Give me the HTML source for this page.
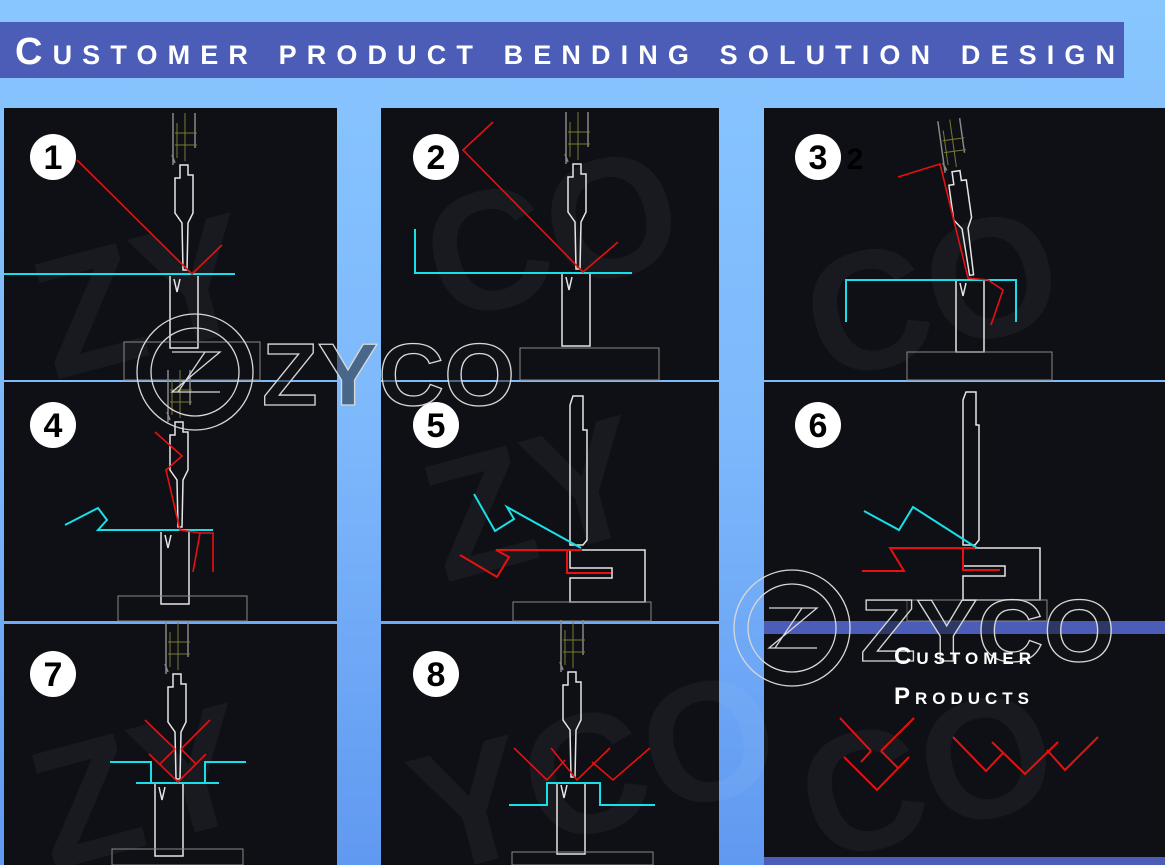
<!DOCTYPE html>
<html><head><meta charset="utf-8"><style>
html,body{margin:0;padding:0;width:1165px;height:865px;overflow:hidden;}
body{background:linear-gradient(#86c3ff,#7ab6fb 50%,#5f97f0);}
svg{display:block}
</style></head><body>
<svg width="1165" height="865" viewBox="0 0 1165 865" xmlns="http://www.w3.org/2000/svg">
<defs>
<linearGradient id="bg" x1="0" y1="0" x2="0" y2="1"><stop offset="0" stop-color="#88c6ff"/><stop offset="0.5" stop-color="#7db8fc"/><stop offset="1" stop-color="#6099f0"/></linearGradient>
<g id="punch" fill="none" stroke="#e6e6e6" stroke-width="1.5">
<path d="M-2,-3 L-3,-50 L-10,-60 L-10,-95 L-5,-95 L-5,-108 L3,-108 L3,-98 L8,-98 L8,-60 L3,-50 L2,-3 Z"/>
<path d="M-12,-108 L-12,-160 M-10,-110 L-13,-118 M10,-125 L10,-160" stroke="#888"/>
<path d="M-8,-150 L-8,-115 M-10,-140 L12,-140 M-10,-128 L12,-128 M0,-160 L0,-112" stroke="#7a7a30" stroke-width="1"/>
</g>
<g id="die" fill="none" stroke="#e6e6e6" stroke-width="1.5">
<path d="M-14,0 L-14,72 L14,72 L14,0 M-10,3 L-7,16 L-4,3"/>
</g>
</defs>
<rect width="1165" height="865" fill="url(#bg)"/>
<!-- title -->
<rect x="0" y="22" width="1124" height="56" fill="#4b5db6"/>
<text x="15" y="64" font-family="Liberation Sans, sans-serif" font-weight="bold" font-size="38" fill="#fff" textLength="1100" lengthAdjust="spacing" style="font-variant:small-caps">Customer product bending solution design</text>

<!-- panels -->
<g fill="#0e1015">
<rect x="4" y="108" width="333" height="272"/>
<rect x="381" y="108" width="338" height="272"/>
<rect x="764" y="108" width="401" height="272"/>
<rect x="4" y="382" width="333" height="239"/>
<rect x="381" y="382" width="338" height="239"/>
<rect x="764" y="382" width="401" height="239"/>
<rect x="4" y="624" width="333" height="241"/>
<rect x="381" y="624" width="338" height="241"/>
<rect x="764" y="634" width="401" height="223"/>
</g>
<rect x="764" y="621" width="401" height="13" fill="#4b5db6"/>
<rect x="764" y="857" width="401" height="8" fill="#4b5db6"/>

<!-- watermark -->
<g font-family="Liberation Sans, sans-serif" font-weight="bold" fill="#ffffff" fill-opacity="0.045">
<text x="30" y="360" font-size="170" transform="rotate(-15 120 280)">ZY</text>
<text x="420" y="300" font-size="170" transform="rotate(-15 520 220)">CO</text>
<text x="800" y="360" font-size="170" transform="rotate(-15 900 280)">CO</text>
<text x="420" y="560" font-size="170" transform="rotate(-15 520 480)">ZY</text>
<text x="30" y="850" font-size="170" transform="rotate(-15 120 780)">ZY</text>
<text x="410" y="850" font-size="170" transform="rotate(-15 520 780)">YCO</text>
<text x="800" y="840" font-size="170" transform="rotate(-15 900 780)">CO</text>
</g>

<!-- P1 -->
<use href="#punch" x="185" y="273"/>
<use href="#die" x="184" y="276"/>
<rect x="124" y="342" width="136" height="38" fill="none" stroke="#888"/>
<line x1="4" y1="274" x2="235" y2="274" stroke="#19e0e8" stroke-width="2"/>
<polyline points="77,160 192,274 222,245" fill="none" stroke="#e81010" stroke-width="1.6"/>
<!-- P2 -->
<use href="#punch" x="578" y="272"/>
<use href="#die" x="576" y="274"/>
<rect x="520" y="348" width="139" height="32" fill="none" stroke="#888"/>
<polyline points="415,229 415,273 632,273" fill="none" stroke="#19e0e8" stroke-width="2"/>
<polyline points="493,122 463,150 583,272 618,242" fill="none" stroke="#e81010" stroke-width="1.6"/>
<!-- P3 -->
<use href="#punch" x="972" y="278" transform="rotate(-8 972 278)"/>
<use href="#die" x="970" y="280"/>
<rect x="907" y="352" width="145" height="28" fill="none" stroke="#888"/>
<polyline points="846,322 846,280 1016,280 1016,322" fill="none" stroke="#19e0e8" stroke-width="2"/>
<polyline points="898,177 940,164 968,278 988,280 1003,290 991,325" fill="none" stroke="#e81010" stroke-width="1.6"/>
<!-- P4 -->
<use href="#punch" x="180" y="530"/>
<use href="#die" x="175" y="532"/>
<rect x="118" y="596" width="129" height="25" fill="none" stroke="#888"/>
<polyline points="65,525 98,508 107,520 98,530 213,530" fill="none" stroke="#19e0e8" stroke-width="2"/>
<polyline points="155,432 182,456 166,470 180,530 200,533 193,572" fill="none" stroke="#e81010" stroke-width="1.6"/>
<polyline points="200,533 213,533 213,572" fill="none" stroke="#e81010" stroke-width="1.6"/>
<!-- P5 -->
<g fill="none" stroke="#e6e6e6" stroke-width="1.5">
<path d="M570,545 L570,405 L573,396 L583,396 L583,430 L587,430 L587,540 L583,545 Z"/>
<path d="M570,550 L645,550 L645,602 L570,602 L570,578 L612,578 L612,568 L570,568 Z"/>
</g>
<rect x="513" y="602" width="138" height="19" fill="none" stroke="#888"/>
<polyline points="474,494 495,531 514,519 507,507 581,548" fill="none" stroke="#19e0e8" stroke-width="2"/>
<polyline points="460,555 497,577 509,557 496,550 582,550 567,550 567,573 611,573" fill="none" stroke="#e81010" stroke-width="2"/>
<!-- P6 -->
<g fill="none" stroke="#e6e6e6" stroke-width="1.5">
<path d="M963,545 L963,400 L966,392 L976,392 L976,425 L979,425 L979,540 L975,545 Z"/>
<path d="M963,548 L1040,548 L1040,600 L963,600 L963,576 L1005,576 L1005,566 L963,566 Z"/>
</g>
<rect x="907" y="600" width="140" height="21" fill="none" stroke="#888"/>
<polyline points="864,511 899,530 913,507 977,548" fill="none" stroke="#19e0e8" stroke-width="2"/>
<polyline points="862,571 904,571 890,548 975,548 963,548 963,570 1000,570" fill="none" stroke="#e81010" stroke-width="2"/>
<!-- P7 -->
<use href="#punch" x="178" y="782"/>
<use href="#die" x="169" y="784"/>
<rect x="112" y="849" width="131" height="16" fill="none" stroke="#888"/>
<g fill="none" stroke="#19e0e8" stroke-width="2">
<polyline points="110,762 151,762 151,783"/><line x1="136" y1="783" x2="219" y2="783"/><polyline points="205,783 205,762 246,762"/>
</g>
<g fill="none" stroke="#e81010" stroke-width="1.6">
<line x1="145" y1="720" x2="175" y2="749"/><line x1="210" y1="720" x2="181" y2="749"/>
<polyline points="149,754 178,782 206,754"/><line x1="175" y1="749" x2="160" y2="764"/><line x1="181" y1="749" x2="196" y2="764"/>
</g>
<!-- P8 -->
<use href="#punch" x="573" y="780"/>
<use href="#die" x="571" y="782"/>
<rect x="512" y="852" width="141" height="13" fill="none" stroke="#888"/>
<polyline points="509,805 547,805 547,783 600,783 600,805 655,805" fill="none" stroke="#19e0e8" stroke-width="2"/>
<g fill="none" stroke="#e81010" stroke-width="1.6">
<polyline points="514,748 547,780 565,760"/><polyline points="551,748 577,780 610,748"/><polyline points="592,762 613,780 650,748"/>
</g>

<!-- number badges -->
<g font-family="Liberation Sans, sans-serif" font-weight="bold" font-size="34" text-anchor="middle" fill="#000">
<circle cx="53" cy="157" r="23" fill="#fff"/><text x="53" y="169">1</text>
<circle cx="436" cy="157" r="23" fill="#fff"/><text x="436" y="169">2</text>
<circle cx="818" cy="157" r="23" fill="#fff"/><text x="818" y="169">3</text><text x="855" y="169" font-size="30">2</text>
<circle cx="53" cy="425" r="23" fill="#fff"/><text x="53" y="437">4</text>
<circle cx="436" cy="425" r="23" fill="#fff"/><text x="436" y="437">5</text>
<circle cx="818" cy="425" r="23" fill="#fff"/><text x="818" y="437">6</text>
<circle cx="53" cy="674" r="23" fill="#fff"/><text x="53" y="686">7</text>
<circle cx="436" cy="674" r="23" fill="#fff"/><text x="436" y="686">8</text>
</g>

<!-- ZYCO logos -->
<g fill="#111318" fill-opacity="0.5" stroke="#d8d8d8" stroke-width="1.3" font-family="Liberation Sans, sans-serif" font-weight="bold">
<circle cx="195" cy="372" r="58" fill="none"/><circle cx="195" cy="372" r="44" fill="none"/>
<path d="M172,352 L220,352 L172,392 L220,392 M205,352 L178,392" fill="none"/>
<text x="262" y="405" font-size="88" textLength="253" lengthAdjust="spacingAndGlyphs">ZYCO</text>
<circle cx="792" cy="628" r="58" fill="none"/><circle cx="792" cy="628" r="44" fill="none"/>
<path d="M769,608 L817,608 L769,648 L817,648 M802,608 L775,648" fill="none"/>
<text x="860" y="661" font-size="88" textLength="255" lengthAdjust="spacingAndGlyphs">ZYCO</text>
</g>

<!-- customer products -->
<g font-family="Liberation Sans, sans-serif" font-weight="bold" font-size="24" fill="#fff" letter-spacing="3" style="font-variant:small-caps">
<text x="894" y="664" textLength="140" lengthAdjust="spacing">Customer</text>
<text x="894" y="704" textLength="138" lengthAdjust="spacing">Products</text>
</g>
<g fill="none" stroke="#e81010" stroke-width="2">
<line x1="840" y1="718" x2="871" y2="751"/><line x1="914" y1="718" x2="881" y2="751"/>
<polyline points="844,757 877,790 909,757"/><line x1="871" y1="751" x2="861" y2="762"/><line x1="881" y1="751" x2="898" y2="768"/>
<polyline points="953,737 986,771 1003,753"/><polyline points="992,742 1025,774 1058,742"/><polyline points="1047,750 1065,770 1098,737"/>
</g>
</svg>
</body></html>
